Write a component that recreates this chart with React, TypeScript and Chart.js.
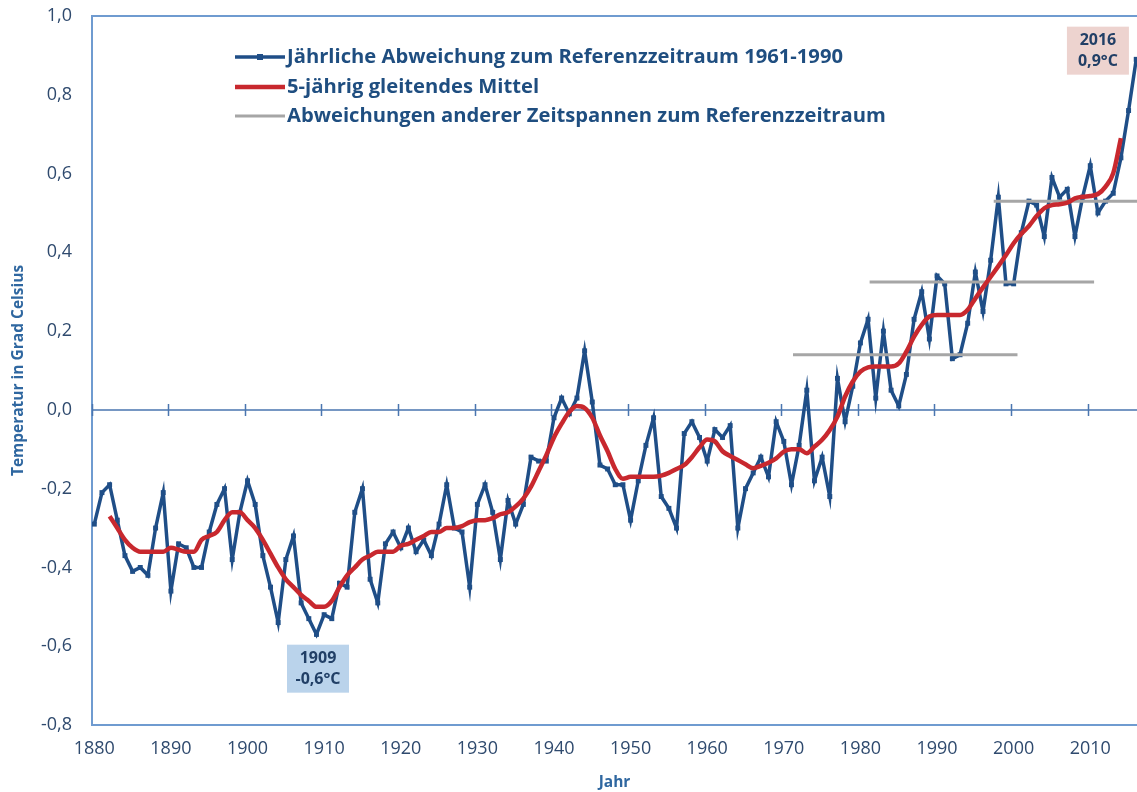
import React, { useEffect, useRef } from "react";
import { Chart, registerables } from "chart.js";

Chart.register(...registerables);

const YEARS = [
  1880, 1881, 1882, 1883, 1884, 1885, 1886, 1887, 1888, 1889,
  1890, 1891, 1892, 1893, 1894, 1895, 1896, 1897, 1898, 1899,
  1900, 1901, 1902, 1903, 1904, 1905, 1906, 1907, 1908, 1909,
  1910, 1911, 1912, 1913, 1914, 1915, 1916, 1917, 1918, 1919,
  1920, 1921, 1922, 1923, 1924, 1925, 1926, 1927, 1928, 1929,
  1930, 1931, 1932, 1933, 1934, 1935, 1936, 1937, 1938, 1939,
  1940, 1941, 1942, 1943, 1944, 1945, 1946, 1947, 1948, 1949,
  1950, 1951, 1952, 1953, 1954, 1955, 1956, 1957, 1958, 1959,
  1960, 1961, 1962, 1963, 1964, 1965, 1966, 1967, 1968, 1969,
  1970, 1971, 1972, 1973, 1974, 1975, 1976, 1977, 1978, 1979,
  1980, 1981, 1982, 1983, 1984, 1985, 1986, 1987, 1988, 1989,
  1990, 1991, 1992, 1993, 1994, 1995, 1996, 1997, 1998, 1999,
  2000, 2001, 2002, 2003, 2004, 2005, 2006, 2007, 2008, 2009,
  2010, 2011, 2012, 2013, 2014, 2015, 2016,
];

// Jährliche Abweichung zum Referenzzeitraum 1961-1990 (°C)
const ANNUAL = [
  -0.29, -0.21, -0.19, -0.28, -0.37, -0.41, -0.40, -0.42, -0.30, -0.21,
  -0.46, -0.34, -0.35, -0.40, -0.40, -0.31, -0.24, -0.20, -0.38, -0.26,
  -0.18, -0.24, -0.37, -0.45, -0.54, -0.38, -0.32, -0.49, -0.53, -0.57,
  -0.52, -0.53, -0.44, -0.45, -0.26, -0.20, -0.43, -0.49, -0.34, -0.31,
  -0.35, -0.30, -0.36, -0.33, -0.37, -0.29, -0.19, -0.30, -0.31, -0.45,
  -0.24, -0.19, -0.26, -0.38, -0.23, -0.29, -0.24, -0.12, -0.13, -0.13,
  -0.02, 0.03, -0.01, 0.03, 0.15, 0.02, -0.14, -0.15, -0.19, -0.19,
  -0.28, -0.18, -0.09, -0.02, -0.22, -0.25, -0.30, -0.06, -0.03, -0.07,
  -0.13, -0.05, -0.07, -0.04, -0.30, -0.20, -0.16, -0.12, -0.17, -0.03,
  -0.08, -0.19, -0.09, 0.05, -0.18, -0.12, -0.22, 0.08, -0.03, 0.06,
  0.17, 0.23, 0.03, 0.20, 0.05, 0.01, 0.09, 0.23, 0.30, 0.18,
  0.34, 0.32, 0.13, 0.14, 0.22, 0.35, 0.25, 0.38, 0.54, 0.32,
  0.32, 0.45, 0.53, 0.52, 0.44, 0.59, 0.54, 0.56, 0.44, 0.54,
  0.62, 0.50, 0.53, 0.55, 0.64, 0.76, 0.89,
];

// 5-jährig gleitendes Mittel, 1882-2014
const MA_YEARS = YEARS.slice(2, 135);
const MOVING_AVG = [
  -0.27, -0.30, -0.33, -0.35, -0.36, -0.36, -0.36, -0.36,
  -0.35, -0.355, -0.36, -0.36, -0.33, -0.32, -0.31, -0.28, -0.26, -0.26,
  -0.28, -0.30, -0.33, -0.365, -0.40, -0.43, -0.45, -0.47, -0.485, -0.50,
  -0.50, -0.485, -0.45, -0.42, -0.40, -0.38, -0.37, -0.36, -0.36, -0.36,
  -0.345, -0.34, -0.33, -0.32, -0.31, -0.31, -0.30, -0.30, -0.295, -0.285,
  -0.28, -0.28, -0.275, -0.265, -0.26, -0.245, -0.225, -0.195, -0.155, -0.115,
  -0.07, -0.035, -0.005, 0.01, 0.005, -0.02, -0.065, -0.105, -0.15, -0.175,
  -0.17, -0.17, -0.17, -0.17, -0.167, -0.16, -0.15, -0.14, -0.12, -0.095,
  -0.075, -0.08, -0.105, -0.117, -0.127, -0.138, -0.148, -0.142, -0.134, -0.123,
  -0.106, -0.10, -0.10, -0.11, -0.093, -0.076, -0.051, -0.017, 0.034, 0.072,
  0.097, 0.108, 0.11, 0.11, 0.11, 0.118, 0.148, 0.186, 0.216, 0.237,
  0.241, 0.241, 0.241, 0.241, 0.254, 0.283, 0.311, 0.338, 0.365, 0.393,
  0.423, 0.447, 0.467, 0.492, 0.512, 0.52, 0.522, 0.526, 0.537, 0.541,
  0.543, 0.548, 0.567, 0.601, 0.69,
];

// Abweichungen anderer Zeitspannen zum Referenzzeitraum
const REF_START = [1971.2, 1981.2, 1997.4];
const REF_END = [2000.5, 2010.5, 2016.2];
const REF_VALUE = [0.14, 0.325, 0.53];

const X_TICKS = [1880, 1890, 1900, 1910, 1920, 1930, 1940, 1950, 1960, 1970, 1980, 1990, 2000, 2010];
const Y_TICKS = [-0.8, -0.6, -0.4, -0.2, 0, 0.2, 0.4, 0.6, 0.8, 1.0];

const LEGEND_LABELS = [
  "Jährliche Abweichung zum Referenzzeitraum 1961-1990",
  "5-jährig gleitendes Mittel",
  "Abweichungen anderer Zeitspannen zum Referenzzeitraum",
];

const NOTE_LINES = [["1909", "-0,6°C"], ["2016", "0,9°C"]];
const NOTE_X = [1909.2, 2011.0];
const NOTE_Y = [-0.657, 0.912];

const BLUE = "#1F4E87";
const RED = "#C8282E";
const GREY = "#A6A6A6";
const AXIS = "#6F9BD0";
const ZERO = "#4A76B0";
const TICK_TEXT = "#2F4A6E";
const TITLE_TEXT = "#2F67A0";
const LEGEND_TEXT = "#1F4E80";
const NOTE_BG = ["#BAD3EB", "#EDD3CF"];
const FONT = "'Open Sans', 'Liberation Sans', sans-serif";

const decorPlugin = {
  id: "decor",
  beforeDatasetsDraw(chart: any) {
    const { ctx, chartArea: a, scales } = chart;
    const x = scales.x;
    const y = scales.y;
    ctx.save();
    // top frame line
    ctx.strokeStyle = AXIS;
    ctx.lineWidth = 2;
    ctx.beginPath();
    ctx.moveTo(a.left, a.top);
    ctx.lineTo(chart.width, a.top);
    ctx.stroke();
    // zero line with tick marks
    const y0 = y.getPixelForValue(0);
    ctx.strokeStyle = ZERO;
    ctx.lineWidth = 1.5;
    ctx.beginPath();
    ctx.moveTo(a.left, y0);
    ctx.lineTo(chart.width, y0);
    X_TICKS.forEach((t) => {
      const px = Math.round(x.getPixelForValue(t - 0.35)) + 0.5;
      ctx.moveTo(px, y0 - 6);
      ctx.lineTo(px, y0 + 6);
    });
    ctx.stroke();
    // annotation boxes
    NOTE_LINES.forEach((lines, i) => {
      const cx = x.getPixelForValue(NOTE_X[i]);
      const cy = y.getPixelForValue(NOTE_Y[i]);
      const w = 62;
      const h = 48;
      ctx.fillStyle = NOTE_BG[i];
      ctx.fillRect(cx - w / 2, cy - h / 2, w, h);
      ctx.fillStyle = "#213F66";
      ctx.font = `bold 16px ${FONT}`;
      ctx.textAlign = "center";
      ctx.textBaseline = "middle";
      ctx.fillText(lines[0], cx, cy - 10);
      ctx.fillText(lines[1], cx, cy + 11);
    });
    ctx.restore();
  },
  afterDatasetsDraw(chart: any) {
    const { ctx, chartArea: a } = chart;
    ctx.save();
    const x0 = a.left + 143;
    const x1 = a.left + 193;
    const rows = [a.top + 41, a.top + 71, a.top + 100];
    const colors = [BLUE, RED, GREY];
    const widths = [3.5, 4.5, 3];
    rows.forEach((ry, i) => {
      ctx.strokeStyle = colors[i];
      ctx.lineWidth = widths[i];
      ctx.beginPath();
      ctx.moveTo(x0, ry);
      ctx.lineTo(x1, ry);
      ctx.stroke();
      if (i === 0) {
        ctx.fillStyle = BLUE;
        ctx.fillRect((x0 + x1) / 2 - 3, ry - 3, 6, 6);
      }
      ctx.fillStyle = LEGEND_TEXT;
      ctx.font = `bold 20.2px ${FONT}`;
      ctx.textAlign = "left";
      ctx.textBaseline = "middle";
      ctx.fillText(LEGEND_LABELS[i], x1 + 2, ry);
    });
    ctx.restore();
  },
};

export default function App() {
  const ref = useRef<HTMLCanvasElement>(null);

  useEffect(() => {
    const canvas = ref.current;
    if (!canvas) return;
    const datasets: any[] = [
      {
        label: LEGEND_LABELS[1],
        data: MA_YEARS.map((yr, i) => ({ x: yr, y: MOVING_AVG[i] })),
        borderColor: RED,
        backgroundColor: RED,
        borderWidth: 4.5,
        pointRadius: 0,
        cubicInterpolationMode: "monotone",
        order: 0,
      },
      ...REF_VALUE.map((v, i) => ({
        label: LEGEND_LABELS[2],
        data: [
          { x: REF_START[i], y: v },
          { x: REF_END[i], y: v },
        ],
        borderColor: GREY,
        backgroundColor: GREY,
        borderWidth: 3,
        pointRadius: 0,
        order: 1,
      })),
      {
        label: LEGEND_LABELS[0],
        data: YEARS.map((yr, i) => ({ x: yr, y: ANNUAL[i] })),
        borderColor: BLUE,
        backgroundColor: BLUE,
        borderWidth: 3.5,
        pointStyle: "rect",
        pointRadius: 3.5,
        pointBorderWidth: 0,
        pointBackgroundColor: BLUE,
        tension: 0,
        order: 2,
      },
    ];

    const chart = new Chart(canvas, {
      type: "line",
      data: { datasets },
      options: {
        animation: false,
        responsive: false,
        maintainAspectRatio: false,
        layout: { padding: { top: 16, right: 0, bottom: 0, left: 0 } },
        plugins: {
          legend: { display: false },
          tooltip: { enabled: false },
        },
        scales: {
          x: {
            type: "linear",
            min: 1879.7,
            max: 2016.1,
            afterBuildTicks: (s: any) => {
              s.ticks = X_TICKS.map((v) => ({ value: v }));
            },
            afterFit: (s: any) => {
              s.height = 67;
            },
            ticks: {
              autoSkip: false,
              maxRotation: 0,
              padding: 0,
              color: TICK_TEXT,
              font: { family: FONT, size: 18 },
              callback: (v: any) => String(v),
            },
            grid: {
              drawOnChartArea: false,
              drawTicks: true,
              tickLength: 13,
              tickColor: "rgba(0,0,0,0)",
            },
            border: { display: true, color: AXIS, width: 2 },
            title: {
              display: true,
              text: "Jahr",
              color: TITLE_TEXT,
              font: { family: FONT, size: 15.5, weight: "bold" },
              padding: { top: 0, bottom: 0 },
            },
          },
          y: {
            type: "linear",
            min: -0.8,
            max: 1.0,
            afterBuildTicks: (s: any) => {
              s.ticks = Y_TICKS.map((v) => ({ value: v }));
            },
            afterFit: (s: any) => {
              s.width = 92;
            },
            ticks: {
              padding: 0,
              color: TICK_TEXT,
              font: { family: FONT, size: 18 },
              callback: (v: any) => Number(v).toFixed(1).replace(".", ","),
            },
            grid: {
              drawOnChartArea: false,
              drawTicks: true,
              tickLength: 20,
              tickColor: "rgba(0,0,0,0)",
            },
            border: { display: true, color: AXIS, width: 2 },
            title: {
              display: true,
              text: "Temperatur in Grad Celsius",
              color: TITLE_TEXT,
              font: { family: FONT, size: 15.5, weight: "bold" },
              padding: { top: 9, bottom: 0 },
            },
          },
        },
      },
      plugins: [decorPlugin],
    });
    return () => chart.destroy();
  }, []);

  return (
    <div
      style={{
        position: "absolute",
        left: 0,
        top: 0,
        width: 1137,
        height: 792,
        overflow: "hidden",
        background: "#fff",
      }}
    >
      <canvas ref={ref} width={1141} height={792} style={{ display: "block" }} />
    </div>
  );
}
